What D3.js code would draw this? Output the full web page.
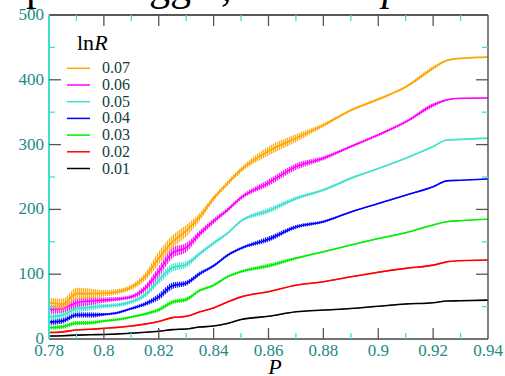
<!DOCTYPE html>
<html>
<head>
<meta charset="utf-8">
<script src="https://cdn.jsdelivr.net/npm/d3@7"></script>
<style>
  body { margin: 0; background: #fff; }
  svg text { font-family: "Liberation Serif", "Times New Roman", Times, "DejaVu Serif", serif; }
</style>
</head>
<body>
<div id="chart"></div>
<script>
// P grid
var pVals = [0.78, 0.785, 0.79, 0.795, 0.80, 0.805, 0.81, 0.815, 0.82, 0.825, 0.83, 0.835, 0.84, 0.845, 0.85, 0.86, 0.87, 0.88, 0.89, 0.90, 0.91, 0.92, 0.925, 0.93, 0.94];

var s007 = [56, 54, 70, 70, 70.5, 73, 80, 96, 125, 150, 167, 189, 217, 240, 261, 290, 310, 330, 353, 370, 389, 418, 430, 433, 435];
var s006 = [45.5, 47, 56, 58.6, 60, 61.7, 65, 78, 104, 133, 141, 163, 182, 199, 218, 241, 266, 279, 297, 315, 335, 361, 369, 371.5, 372];
var s005 = [34, 37, 47, 49, 51, 52.5, 57.5, 68, 91, 110, 115, 132, 148, 163, 182, 198, 217, 230, 248, 263, 279, 297, 307, 308, 310];
var s004 = [26, 28, 37, 37, 38, 40.6, 47, 54, 65, 82, 86, 101, 113, 129, 140, 154, 173, 181, 196, 209, 222, 235, 244, 245, 247];
var s003 = [17.5, 19, 24.6, 25, 27.8, 30, 34, 38.6, 45, 57, 61, 75, 83, 96, 104, 113, 124.5, 134.7, 145, 155, 164, 176, 181, 182.6, 184.7];
var s002 = [10, 11, 14, 15, 16.5, 18, 20, 23, 27, 33, 35, 42, 48, 57, 65, 73, 83, 88.4, 96, 103, 109, 114, 119, 120.8, 122];
var s001 = [4.6, 5, 6, 6.6, 7, 7.7, 9, 10.3, 12, 14.5, 15.5, 18.5, 20, 24, 30, 35, 42, 44.7, 47, 50.5, 54, 56, 58.6, 59, 60];

// error bar half-heights (rough)
var e007 = [8, 8, 9, 8, 5, 4, 4, 6, 10, 10, 9, 6, 4, 4, 4, 7, 6, 3, 2, 2, 2, 3, 1, 0.5, 0.5];
var e006 = [6, 6, 7, 6, 4, 3, 3, 5, 8, 8, 7, 5, 4, 3, 3, 5, 5, 3, 2, 2, 2, 3, 1, 0.5, 0.5];
var e005 = [5, 5, 6, 5, 3, 3, 3, 4, 6, 6, 5, 3, 3, 2, 2, 4, 3, 2, 2, 1, 1, 1, 0.5, 0.5, 0.5];
var e004 = [4, 4, 4, 4, 2, 2, 2, 3, 5, 5, 4, 3, 2, 2, 2, 4, 3, 2, 1, 1, 1, 1, 0.5, 0.5, 0.5];
var e003 = [3, 3, 3, 3, 2, 2, 2, 2, 3, 3, 3, 2, 2, 2, 2, 3, 2, 1, 1, 1, 1, 1, 0.5, 0.5, 0.5];
var e002 = [1, 1, 1, 1, 1, 1, 1, 1, 1, 1, 1, 1, 1, 1, 1, 1, 1, 1, 1, 1, 1, 1, 0.5, 0.5, 0.5];
var e001 = [0.6, 0.6, 0.6, 0.6, 0.6, 0.6, 0.6, 0.6, 0.6, 0.6, 0.6, 0.6, 0.6, 0.6, 0.6, 0.6, 0.6, 0.6, 0.6, 0.6, 0.6, 0.6, 0.5, 0.5, 0.5];

var seriesNames = ['0.07', '0.06', '0.05', '0.04', '0.03', '0.02', '0.01'];
var seriesColors = ['#ffa500', '#ff00ff', '#40e0d0', '#0000ff', '#00ee00', '#ff0000', '#000000'];
var seriesVals = [s007, s006, s005, s004, s003, s002, s001];
var seriesErr = [e007, e006, e005, e004, e003, e002, e001];

var xTicks = [0.78, 0.8, 0.82, 0.84, 0.86, 0.88, 0.9, 0.92, 0.94];
var xTickLabels = ['0.78', '0.8', '0.82', '0.84', '0.86', '0.88', '0.9', '0.92', '0.94'];
var xMinor = [0.79, 0.81, 0.83, 0.85, 0.87, 0.89, 0.91, 0.93];
var yTicks = [0, 100, 200, 300, 400, 500];
var yMinor = [50, 150, 250, 350, 450];

var W = 505, H = 376;
var margin = { top: 15, right: 17, bottom: 37, left: 49 };
var pw = W - margin.left - margin.right;
var ph = H - margin.top - margin.bottom;

var labelColor = '#1a8a86';
var majorColor = '#555';
var minorColor = '#40e0d0';
var serif = '"Liberation Serif", "Times New Roman", Times, "DejaVu Serif", serif';

var svg = d3.select('#chart').append('svg')
  .attr('width', W)
  .attr('height', H)
  .attr('font-family', serif);

// striped fills so the error bands look like dense vertical error bars
var defs = svg.append('defs');
seriesColors.forEach(function (c, i) {
  var pat = defs.append('pattern')
    .attr('id', 'hair' + i)
    .attr('patternUnits', 'userSpaceOnUse')
    .attr('width', 2).attr('height', 4);
  pat.append('rect').attr('width', 1).attr('height', 4).attr('fill', c);
});

// cut-off title at the very top (only descenders show)
var titleBits = [
  { t: 'p', x: 26 },
  { t: 'gg', x: 149 },
  { t: ',', x: 221 },
  { t: 'p', x: 382 }
];
svg.selectAll('text.title')
  .data(titleBits)
  .enter().append('text')
  .attr('class', 'title')
  .attr('x', d => d.x)
  .attr('y', 0)
  .attr('font-size', 42)
  .attr('font-family', serif)
  .attr('font-style', (d, i) => i == 3 ? 'italic' : 'normal')
  .attr('fill', '#000')
  .text(d => d.t);

var g = svg.append('g')
  .attr('transform', 'translate(' + margin.left + ',' + margin.top + ')');

var x = d3.scaleLinear().domain([0.78, 0.94]).range([0, pw]);
var y = d3.scaleLinear().domain([0, 500]).range([ph, 0]);

defs.append('clipPath').attr('id', 'clip')
  .append('rect').attr('width', pw).attr('height', ph);

var plot = g.append('g').attr('clip-path', 'url(#clip)');

var band = d3.area()
  .curve(d3.curveMonotoneX)
  .x((d, i) => x(pVals[i]));
var line = d3.line()
  .curve(d3.curveMonotoneX)
  .x((d, i) => x(pVals[i]))
  .y(d => y(d));

// draw from bottom series up
for (var k = seriesVals.length - 1; k >= 0; k--) {
  var vals = seriesVals[k], errs = seriesErr[k];
  var bandPath = band.y0((d, i) => y(vals[i] - errs[i])).y1((d, i) => y(vals[i] + errs[i]))(vals);
  plot.append('path')
    .attr('d', bandPath)
    .attr('fill', seriesColors[k])
    .attr('fill-opacity', 0.25);
  plot.append('path')
    .attr('d', bandPath)
    .attr('fill', 'url(#hair' + k + ')')
    .attr('fill-opacity', 0.85);
  plot.append('path')
    .attr('d', line(vals))
    .attr('fill', 'none')
    .attr('stroke', seriesColors[k])
    .attr('stroke-width', 1.6);
}

// frame
g.append('line').attr('x1', 0).attr('x2', pw).attr('y1', 0).attr('y2', 0).attr('stroke', '#222').attr('stroke-width', 1.5);
g.append('line').attr('x1', pw).attr('x2', pw).attr('y1', 0).attr('y2', ph).attr('stroke', '#555').attr('stroke-width', 1.5);
g.append('line').attr('x1', 0).attr('x2', pw).attr('y1', ph).attr('y2', ph).attr('stroke', '#444').attr('stroke-width', 1.5);
g.append('line').attr('x1', 0).attr('x2', 0).attr('y1', 0).attr('y2', ph).attr('stroke', minorColor).attr('stroke-width', 2);

// x ticks, inward, bottom and top
function xTickLines(vals, len, color) {
  [ph, 0].forEach(function (base) {
    g.append('g').selectAll('line')
      .data(vals)
      .enter().append('line')
      .attr('x1', d => x(d)).attr('x2', d => x(d))
      .attr('y1', base).attr('y2', base == 0 ? len : base - len)
      .attr('stroke', color).attr('stroke-width', 1.3);
  });
}
xTickLines(xTicks.slice(1, -1), 11, majorColor);
xTickLines(xMinor, 6, minorColor);

function yTickLines(vals, len, color) {
  [0, pw].forEach(function (base) {
    g.append('g').selectAll('line')
      .data(vals)
      .enter().append('line')
      .attr('y1', d => y(d)).attr('y2', d => y(d))
      .attr('x1', base).attr('x2', base == 0 ? len : base - len)
      .attr('stroke', color).attr('stroke-width', 1.3);
  });
}
yTickLines(yTicks.slice(1, -1), 12, majorColor);
yTickLines(yMinor, 6, minorColor);

// tick labels
g.append('g').selectAll('text')
  .data(xTicks)
  .enter().append('text')
  .attr('x', d => x(d))
  .attr('y', ph + 17)
  .attr('text-anchor', 'middle')
  .attr('font-size', 17)
  .attr('font-family', serif)
  .attr('fill', labelColor)
  .text((d, i) => xTickLabels[i]);

g.append('g').selectAll('text')
  .data(yTicks)
  .enter().append('text')
  .attr('x', -5)
  .attr('y', d => y(d) + 5)
  .attr('text-anchor', 'end')
  .attr('font-size', 17)
  .attr('font-family', serif)
  .attr('fill', labelColor)
  .text(d => d);

// axis label
svg.append('text')
  .attr('x', 275)
  .attr('y', 374)
  .attr('text-anchor', 'middle')
  .attr('font-size', 22)
  .attr('font-family', serif)
  .attr('font-style', 'italic')
  .attr('fill', '#000')
  .text('P');

// legend
var leg = svg.append('g');
var legTitle = leg.append('text')
  .attr('x', 77)
  .attr('y', 50)
  .attr('font-size', 22)
  .attr('font-family', serif)
  .attr('fill', '#000');
legTitle.append('tspan').text('ln');
legTitle.append('tspan').attr('font-style', 'italic').text('R');

var legRows = leg.selectAll('g.row')
  .data(seriesNames)
  .enter().append('g')
  .attr('class', 'row')
  .attr('transform', (d, i) => 'translate(0,' + (68.3 + i * 16.7) + ')');
legRows.append('line')
  .attr('x1', 67).attr('x2', 90)
  .attr('stroke', (d, i) => seriesColors[i])
  .attr('stroke-width', 1.5);
legRows.append('text')
  .attr('x', 102)
  .attr('y', 5)
  .attr('font-size', 16)
  .attr('font-family', serif)
  .attr('fill', '#10403e')
  .text(d => d);
</script>
</body>
</html>
